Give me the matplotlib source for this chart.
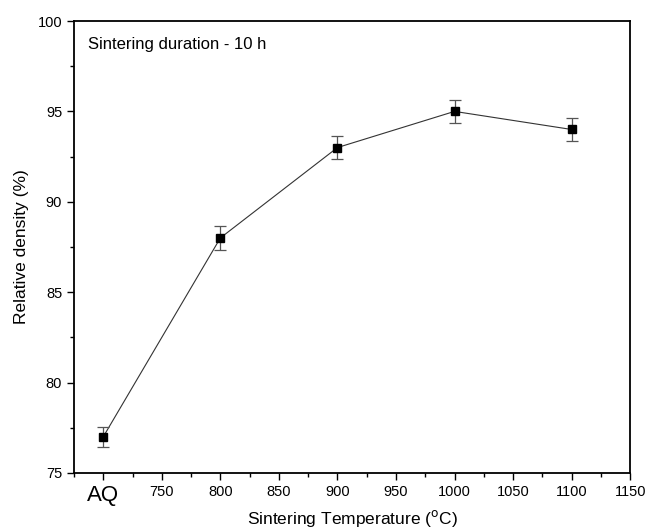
import matplotlib
matplotlib.use("Agg")
import matplotlib.pyplot as plt
from matplotlib.ticker import MultipleLocator

plt.rcParams['font.family'] = ['Liberation Sans', 'DejaVu Sans']

# data
temps = [700, 800, 900, 1000, 1100]
density = [77.0, 88.0, 93.0, 95.0, 94.0]
err = [0.55, 0.65, 0.65, 0.65, 0.65]
xticks = [700, 750, 800, 850, 900, 950, 1000, 1050, 1100, 1150]
xticklabels = ["AQ", "750", "800", "850", "900", "950", "1000", "1050", "1100", "1150"]

fig = plt.figure(figsize=(6.49, 5.32), dpi=100)
ax = fig.add_axes([0.114, 0.111, 0.857, 0.8495])

ax.plot(temps, density, color="#333333", lw=0.8, zorder=2)
ax.errorbar(temps, density, yerr=err, fmt="none", ecolor="#555555",
            elinewidth=0.9, capsize=4, capthick=0.9, zorder=3)
ax.plot(temps, density, ls="none", marker="s", ms=6, color="black", zorder=4)

ax.set_xlim(675, 1150)
ax.set_ylim(75, 100)
ax.xaxis.set_minor_locator(MultipleLocator(25))
ax.yaxis.set_major_locator(MultipleLocator(5))
ax.yaxis.set_minor_locator(MultipleLocator(2.5))

ax.tick_params(which="major", direction="out", length=5, width=1, labelsize=10.5,
               top=False, right=False)
ax.tick_params(which="minor", direction="out", length=3, width=1,
               top=False, right=False)
ax.set_xticks(xticks)
ax.set_xticklabels(xticklabels)
ax.get_xticklabels()[0].set_fontsize(16)
for s in ax.spines.values():
    s.set_linewidth(1.3)

ax.set_xlabel("Sintering Temperature ($^{\\rm o}$C)", fontsize=12.5)
ax.xaxis.set_label_coords(0.5, -0.078)
ax.set_ylabel("Relative density (%)", fontsize=12.5, labelpad=6)
ax.text(0.025, 0.965, "Sintering duration - 10 h", transform=ax.transAxes,
        ha="left", va="top", fontsize=12)

fig.savefig("out.png", dpi=100)
